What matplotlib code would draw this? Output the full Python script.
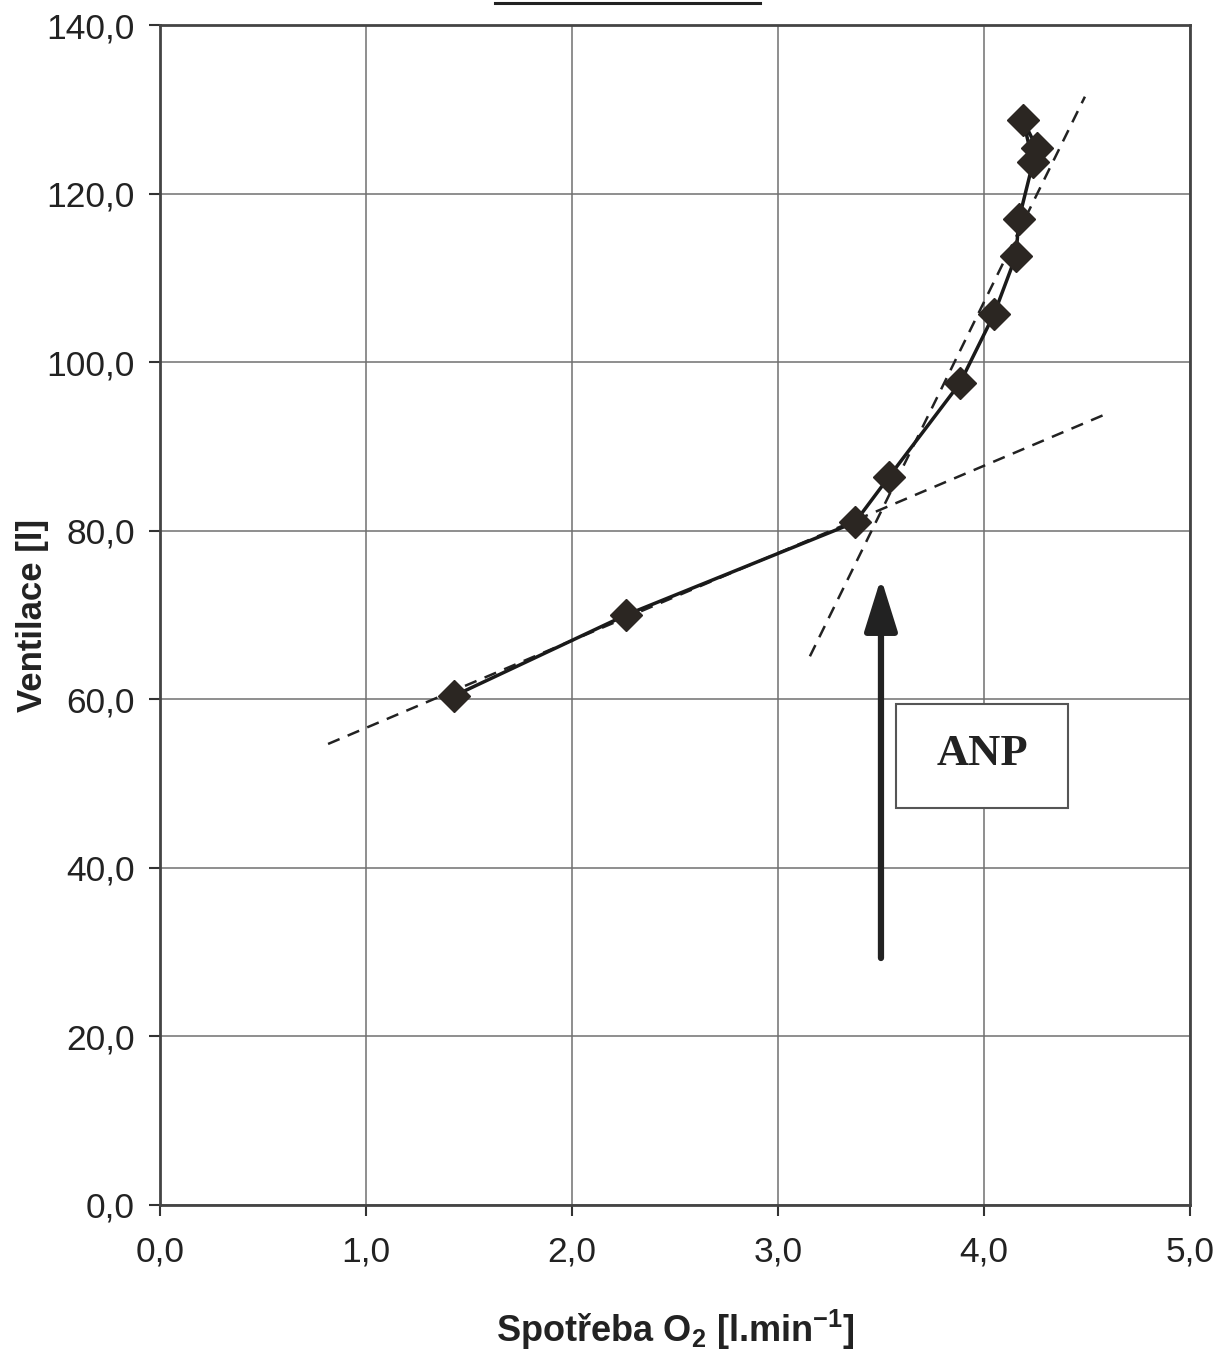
import matplotlib
matplotlib.use("Agg")
import matplotlib.pyplot as plt
from matplotlib.patches import Rectangle
from matplotlib.lines import Line2D

# Data (measured points, in plotting order)
vo2 = [1.427, 2.262, 3.374, 3.539, 3.883, 4.049, 4.155, 4.170, 4.238, 4.190, 4.257]
ve = [60.4, 70.0, 81.0, 86.4, 97.5, 105.7, 112.6, 117.0, 123.7, 128.7, 125.4]

# Dashed trend lines (endpoints)
trend1_x = [0.816, 4.578]
trend1_y = [54.7, 93.7]
trend2_x = [3.155, 4.490]
trend2_y = [65.1, 131.5]

# Arrow (x, y_start, y_end) and label box
arrow_x = 3.5
arrow_y = [29.3, 74.4]
box_x = [3.573, 4.408]
box_y = [47.1, 59.4]
anp_label = "ANP"

xticks = [0, 1, 2, 3, 4, 5]
xticklabels = ["0,0", "1,0", "2,0", "3,0", "4,0", "5,0"]
yticks = [0, 20, 40, 60, 80, 100, 120, 140]
yticklabels = ["0,0", "20,0", "40,0", "60,0", "80,0", "100,0", "120,0", "140,0"]

plt.rcParams['font.family'] = ['Liberation Sans', 'DejaVu Sans']
plt.rcParams['mathtext.fontset'] = 'custom'
plt.rcParams['mathtext.rm'] = 'Liberation Sans'
plt.rcParams['mathtext.bf'] = 'Liberation Sans:bold'

fig = plt.figure(figsize=(12.24, 13.53), dpi=100)
ax = fig.add_axes([0.1307, 0.1094, 0.8415, 0.8721])

ax.set_xlim(0, 5)
ax.set_ylim(0, 140)
ax.set_xticks(xticks)
ax.set_xticklabels(xticklabels)
ax.set_yticks(yticks)
ax.set_yticklabels(yticklabels)
ax.tick_params(axis='both', labelsize=25.5, length=8, width=1.5, color='#333333',
               labelcolor='#222222')
ax.tick_params(axis='y', pad=10)
ax.tick_params(axis='x', pad=14)

ax.grid(True, color='#707070', linewidth=1.1)
ax.set_axisbelow(True)
for s in ax.spines.values():
    s.set_color('#444444')
    s.set_linewidth(2)

# dashed trend lines
ax.plot(trend1_x, trend1_y, linestyle=(0, (5, 3.5)), color='#222222', linewidth=1.8, zorder=3)
ax.plot(trend2_x, trend2_y, linestyle=(0, (5, 3.5)), color='#222222', linewidth=1.8, zorder=3)

# data
ax.plot(vo2, ve, color='#1a1a1a', linewidth=2.5, marker='D', markersize=16,
        markerfacecolor='#2b2622', markeredgecolor='#2b2622', zorder=4)

# arrow
ax.annotate('', xy=(arrow_x, arrow_y[1]), xytext=(arrow_x, arrow_y[0]),
            arrowprops=dict(arrowstyle='-|>,head_length=1.6,head_width=0.5',
                            lw=4.5, color='#222222', mutation_scale=20,
                            shrinkA=0, shrinkB=0), zorder=5)

# ANP box
ax.add_patch(Rectangle((box_x[0], box_y[0]), box_x[1] - box_x[0], box_y[1] - box_y[0],
                       facecolor='white', edgecolor='#555555', linewidth=1.5, zorder=6))
ax.text((box_x[0] + box_x[1]) / 2, (box_y[0] + box_y[1]) / 2 + 0.2, anp_label,
        fontfamily='Liberation Serif', fontweight='bold', fontsize=32,
        ha='center', va='center', color='#222222', zorder=7)

ax.set_xlabel('Spotřeba O$_\\mathbf{2}$ [l.min$^\\mathbf{-1}$]', fontsize=26,
              fontweight='bold', color='#222222')
ax.xaxis.set_label_coords(0.5, -0.087)
ax.set_ylabel('Ventilace [l]', fontsize=25, fontweight='bold', color='#222222')
ax.yaxis.set_label_coords(-0.1233, 0.5)
ax.yaxis.label.set_va('center')

# remnant title underline at the top edge
fig.add_artist(Line2D([495 / 1224, 760 / 1224], [1 - 3 / 1353, 1 - 3 / 1353],
                      color='#222222', linewidth=2.2))

fig.savefig('out.png', dpi=100)
